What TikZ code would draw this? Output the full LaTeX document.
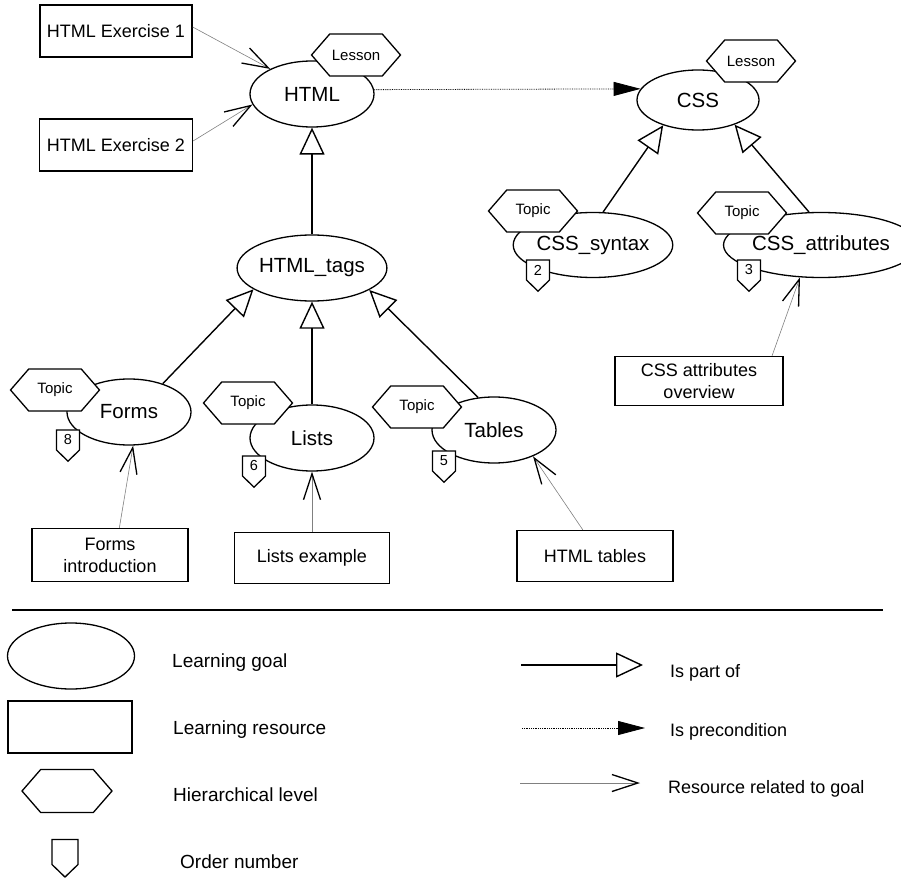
\documentclass[tikz,border=0pt]{standalone}
\usepackage{fontspec}
\setmainfont{Liberation Sans}
\usetikzlibrary{arrows.meta, shapes.geometric, shapes.symbols}

\begin{document}
\begin{tikzpicture}[x=1pt, y=-1pt,
    goal/.style={ellipse, draw, line width=1.3pt, fill=white, inner sep=0pt,
        minimum width=124pt, minimum height=66pt, font=\fontsize{20.5}{22}\selectfont},
    res/.style={rectangle, draw, line width=1.3pt, fill=white, inner sep=0pt, align=center,
        minimum width=155pt, minimum height=51pt, font=\fontsize{18}{22}\selectfont},
    level/.style={signal, signal to=east and west, signal pointer angle=98, draw, line width=1.3pt,
        fill=white, inner sep=0pt, minimum width=89pt, minimum height=42pt, font=\fontsize{15}{16}\selectfont},
    order/.style={signal, signal to=south, signal pointer angle=92, draw, line width=1.3pt,
        fill=white, inner sep=0pt, minimum width=23pt, minimum height=24pt, font=\fontsize{14.5}{16}\selectfont},
    partof/.style={line width=1.4pt, -{Triangle[open, length=27pt, width=25pt]}},
    precond/.style={densely dotted, line width=0.8pt, -{Triangle[length=27pt, width=14pt]}},
    resrel/.style={gray, line width=0.6pt, -{Straight Barb[length=26pt, width=17pt, line width=1.3pt, color=black]}},
    legtext/.style={anchor=base west, inner sep=0pt, font=\fontsize{19}{22}\selectfont}
]
    \useasboundingbox (0,0) rectangle (901,877);

    % learning goals
    \node[goal]                                            (html)   at (312,94)  {HTML};
    \node[goal, minimum width=122pt, minimum height=60pt]  (css)    at (698,100) {CSS};
    \node[goal]                                            (tags)   at (312,268) {HTML\_tags};
    \node[goal, minimum width=121pt, minimum height=65pt]  (cssyn)  at (593,245) {CSS\_syntax};
    \node[goal, minimum width=157pt, minimum height=65pt]  (cssatt) at (821,245) {CSS\_attributes};
    \node[goal]                                            (forms)  at (129,412) {Forms};
    \node[goal]                                            (lists)  at (312,438) {Lists};
    \node[goal]                                            (tables) at (494,430) {Tables};

    % levels
    \node[level] (htmllv)   at (356,55)  {Lesson};
    \node[level] (csslv)    at (751,61)  {Lesson};
    \node[level] (synlv)    at (533,211) {Topic};
    \node[level] (attlv)    at (742,213) {Topic};
    \node[level] (formslv)  at (55,390)  {Topic};
    \node[level] (listslv)  at (248,403) {Topic};
    \node[level] (tableslv) at (417,407) {Topic};

    % order numbers
    \node[order] (synno)    at (538,270) {2};
    \node[order] (attno)    at (749,270) {3};
    \node[order] (formsno)  at (68,440)  {8};
    \node[order] (listsno)  at (254,466) {6};
    \node[order] (tablesno) at (444,461) {5};

    % resources
    \node[res, minimum width=152pt, minimum height=52pt] (ex1)       at (116,31)  {HTML Exercise 1};
    \node[res, minimum width=153pt, minimum height=52pt] (ex2)       at (116,145) {HTML Exercise 2};
    \node[res, minimum width=168pt, minimum height=49pt] (ovw)       at (699,381) {CSS attributes\\overview};
    \node[res, minimum width=156pt, minimum height=53pt] (formsres)  at (110,555) {Forms\\introduction};
    \node[res]                                           (listsres)  at (312,558) {Lists example};
    \node[res, minimum width=156pt]                      (tablesres) at (595,556) {HTML tables};

    \path
        (tags)         edge [partof]  (html)
        (lists)        edge [partof]  (tags)
        (forms.40)     edge [partof]  (tags.200)
        (tables.116)   edge [partof]  (tags.339)
        (cssyn.73)     edge [partof]  (css.216)
        (cssatt.110)   edge [partof]  (css.326)
        (html.4)       edge [precond] (css.169)
        (ex1.3)        edge [resrel]  (html.149)
        (ex2.3)        edge [resrel]  (html.190)
        (ovw.19)       edge [resrel]  (cssatt.237)
        (formsres.71)  edge [resrel]  (forms.277)
        (listsres)     edge [resrel]  (lists)
        (tablesres.115) edge [resrel] (tables.326)
        ;

    % legend
    \coordinate (sepl) at (12,610);
    \coordinate (sepr) at (883,610);
    \draw[line width=1.4pt] (sepl) -- (sepr);

    \node[goal, minimum width=127pt]                      (lgoal)  at (71,656) {};
    \node[res, minimum width=124pt, minimum height=52pt]  (lres)   at (70,727) {};
    \node[level, minimum width=90pt, minimum height=43pt] (llevel) at (67,791) {};
    \node[order, minimum width=26pt, minimum height=25pt] (lorder) at (65,852) {};

    \node[legtext] (tgoal)  at (172,667) {Learning goal};
    \node[legtext] (tres)   at (173,734) {Learning resource};
    \node[legtext] (tlevel) at (173,801) {Hierarchical level};
    \node[legtext] (torder) at (180,868) {Order number};

    \coordinate (pa) at (521,665);
    \coordinate (pb) at (643,665);
    \coordinate (ca) at (522,728);
    \coordinate (cb) at (645,728);
    \coordinate (ra) at (520,783);
    \coordinate (rb) at (640,783);
    \draw[partof]  (pa) -- (pb);
    \draw[precond] (ca) -- (cb);
    \draw[resrel]  (ra) -- (rb);

    \node[legtext, font=\fontsize{18}{22}\selectfont] (tpart) at (670,677) {Is part of};
    \node[legtext, font=\fontsize{18}{22}\selectfont] (tpre)  at (670,736) {Is precondition};
    \node[legtext, font=\fontsize{18}{22}\selectfont] (trel)  at (668,793) {Resource related to goal};
\end{tikzpicture}
\end{document}
